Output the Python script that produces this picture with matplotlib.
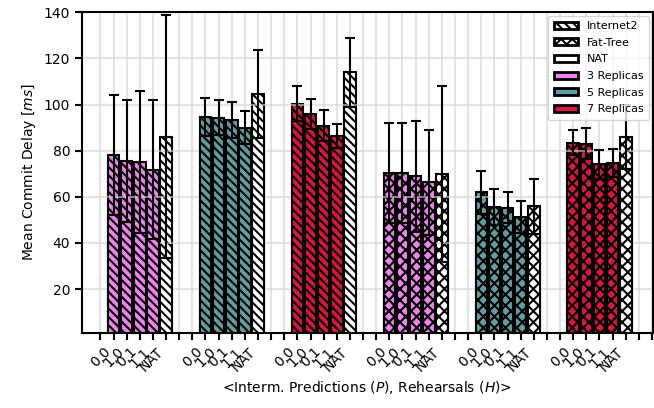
import numpy as np
import matplotlib
matplotlib.use('Agg')
import matplotlib.pyplot as plt
from matplotlib.patches import Patch

plt.rcParams['hatch.linewidth'] = 1.5
plt.rcParams['font.size'] = 10

# configurations inside each group
configs = ['0,0', '1,0', '0,1', '1,1', 'NAT']
topologies = ['Internet2', 'Fat-Tree']
replicas = ['3 Replicas', '5 Replicas', '7 Replicas']
colors = ['violet', 'cadetblue', 'crimson']
hatches = ['\\\\\\\\', 'xxx']

# mean commit delay [ms] and error, per topology then per replica count
means_i2 = [[78.3, 75.4, 75.0, 71.8, 86.0],
            [94.6, 94.2, 93.2, 89.9, 104.6],
            [100.4, 95.9, 90.9, 86.5, 114.0]]
errs_i2 = [[26.0, 26.4, 30.7, 30.0, 52.6],
           [8.3, 7.6, 7.8, 7.2, 18.9],
           [7.5, 6.5, 6.6, 5.2, 15.0]]
means_ft = [[70.4, 70.4, 68.9, 66.3, 69.9],
            [62.0, 55.6, 55.3, 51.1, 55.9],
            [83.4, 83.1, 74.1, 74.7, 86.0]]
errs_ft = [[21.6, 21.6, 24.1, 22.8, 38.3],
           [9.4, 8.0, 6.7, 7.0, 12.0],
           [5.4, 6.8, 6.4, 6.2, 14.0]]

means = [means_i2, means_ft]
errs = [errs_i2, errs_ft]

fig, ax = plt.subplots(figsize=(6.54, 4.08), dpi=100)
fig.subplots_adjust(left=0.1254, right=0.998, top=0.97, bottom=0.184)

slots = 7
width = 0.88
tick_pos = list(range(-1, 42))
tick_lab = [''] * len(tick_pos)

g = 0
for t in range(len(topologies)):
    for r in range(len(replicas)):
        x = np.arange(len(configs)) + g * slots
        m = np.array(means[t][r])
        e = np.array(errs[t][r])
        fc = [colors[r]] * (len(configs) - 1) + ['white']
        # full bar, error bar, then the lower part (mean - err) drawn over it
        ax.bar(x, m, width, color=fc, hatch=hatches[t], edgecolor='black',
               linewidth=1.5, zorder=1)
        ax.errorbar(x, m, yerr=e, fmt='none', ecolor='black', elinewidth=1.5,
                    capsize=3.5, capthick=1.5, zorder=1.6)
        ax.bar(x, m - e, width, color=fc, hatch=hatches[t], edgecolor='black',
               linewidth=1.5, zorder=1.7)
        for k, xi in enumerate(x):
            tick_lab[tick_pos.index(xi)] = configs[k]
        g += 1

ax.set_xticks(tick_pos)
ax.set_xticklabels(tick_lab, rotation=45, ha='right')
ax.set_xlim(-2.4, 41.05)
ax.set_ylim(1, 140)
ax.set_yticks([20, 40, 60, 80, 100, 120, 140])
ax.grid(True, color='lightgray', alpha=0.6, linewidth=1.5)
ax.tick_params(width=1.5, length=5)
for s in ax.spines.values():
    s.set_linewidth(1.5)

ax.set_ylabel('Mean Commit Delay [$ms$]')
ax.set_xlabel('<Interm. Predictions ($P$), Rehearsals ($H$)>')

handles = [Patch(facecolor='white', edgecolor='black', hatch=hatches[0], label=topologies[0]),
           Patch(facecolor='white', edgecolor='black', hatch=hatches[1], label=topologies[1]),
           Patch(facecolor='white', edgecolor='black', label='NAT')]
handles += [Patch(facecolor=c, edgecolor='black', label=l) for c, l in zip(colors, replicas)]
for h in handles:
    h.set_linewidth(2)
ax.legend(handles=handles, loc='upper right', fontsize=8, handlelength=2.2,
          handleheight=0.6, borderaxespad=0.3, labelspacing=0.6, handletextpad=0.8,
          borderpad=0.5)

plt.savefig('out.png', dpi=100)
